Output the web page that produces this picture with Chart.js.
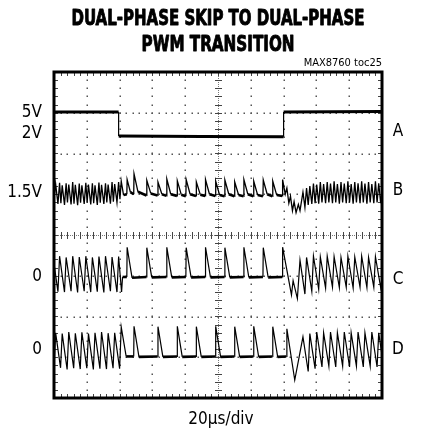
<!DOCTYPE html>
<html>
<head>
<meta charset="utf-8">
<script src="https://cdn.jsdelivr.net/npm/chart.js@4.4.1/dist/chart.umd.min.js"></script>
<style>
  html, body { margin: 0; padding: 0; background: #fff; }
  #wrap { width: 431px; height: 433px; }
</style>
</head>
<body>
<div id="wrap"><canvas id="c" width="431" height="433"></canvas></div>
<script>
// ---- text ----
const titleLines = ['DUAL-PHASE SKIP TO DUAL-PHASE', 'PWM TRANSITION'];
const noteText = 'MAX8760 toc25';
const timeBaseText = '20µs/div';
const levelLabels = ['5V', '2V', '1.5V', '0', '0'];
const traceNames = ['A', 'B', 'C', 'D'];

// ---- scope traces (x in divisions, y in divisions from screen centre) ----
const traceA = [[0,3.02],[1.97,3.02],[1.97,2.43],[4.5,2.42],[7.0,2.41],[7.0,3.02],[10,3.03]];

const traceB = [[0,0.9],[0.05,1.25],[0.12,0.76],[0.17,1.28],[0.21,0.78],[0.25,1.22],[0.32,0.74],[0.37,1.27],[0.41,0.8],[0.45,1.24],[0.52,0.75],[0.57,1.3],[0.61,0.77],[0.65,1.23],[0.72,0.73],[0.77,1.26],[0.81,0.79],[0.85,1.22],[0.92,0.76],[0.97,1.28],[1.01,0.8],[1.05,1.24],[1.12,0.75],[1.17,1.27],[1.21,0.78],[1.25,1.22],[1.32,0.74],[1.37,1.29],[1.41,0.79],[1.45,1.23],[1.52,0.76],[1.57,1.27],[1.61,0.8],[1.65,1.24],[1.72,0.77],[1.77,1.3],[1.81,0.82],[1.85,1.25],[1.92,0.8],[1.97,1.3],[2.01,0.88],[2.05,1.32],[2.12,0.98],
[2.22,1.0],[2.23,1.36],[2.33,1.05],[2.43,1.0],[2.44,1.5],[2.56,1.06],[2.82,0.97],[2.83,1.34],[2.95,1.02],[3.16,0.97],[3.17,1.3],[3.29,1.0],[3.43,0.96],[3.44,1.37],[3.56,1.0],[3.75,0.96],[3.76,1.33],[3.88,0.99],[4.02,0.95],[4.03,1.36],[4.15,1.0],[4.33,0.96],[4.34,1.3],[4.46,0.99],[4.61,0.96],[4.62,1.36],[4.74,1.0],[4.92,0.96],[4.93,1.32],[5.05,0.98],[5.20,0.95],[5.21,1.35],[5.33,1.0],[5.50,0.95],[5.51,1.3],[5.63,0.98],[5.78,0.95],[5.79,1.36],[5.91,1.0],[6.08,0.95],[6.09,1.32],[6.21,0.98],[6.37,0.95],[6.38,1.35],[6.50,1.0],[6.66,0.95],[6.67,1.32],[6.79,0.98],[6.96,0.96],[6.97,1.36],[7.05,1.0],[7.10,1.15],[7.16,0.78],[7.21,0.95],[7.27,0.6],[7.32,0.82],[7.38,0.55],[7.45,0.75],[7.50,0.6],
[7.59,1.05],[7.65,0.68],[7.70,1.15],[7.75,0.74],[7.80,1.2],[7.86,0.76],[7.91,1.26],[7.96,0.78],[8.01,1.24],[8.07,0.77],[8.12,1.3],[8.17,0.8],[8.22,1.25],[8.28,0.78],[8.33,1.3],[8.38,0.8],[8.43,1.26],[8.49,0.78],[8.54,1.32],[8.59,0.8],[8.64,1.25],[8.70,0.77],[8.75,1.3],[8.80,0.8],[8.85,1.26],[8.91,0.78],[8.96,1.32],[9.01,0.8],[9.06,1.25],[9.12,0.77],[9.17,1.3],[9.22,0.8],[9.27,1.27],[9.33,0.78],[9.38,1.32],[9.43,0.8],[9.48,1.26],[9.54,0.77],[9.59,1.3],[9.64,0.8],[9.69,1.25],[9.75,0.78],[9.80,1.32],[9.85,0.8],[9.90,1.27],[9.96,0.78],[10,1.1]];

const traceC = [[0,-0.70],[0.12,-1.39],[0.17,-0.52],[0.32,-1.40],[0.37,-0.55],[0.52,-1.38],[0.57,-0.52],[0.72,-1.41],[0.77,-0.54],[0.92,-1.38],[0.97,-0.52],[1.12,-1.40],[1.17,-0.55],[1.32,-1.39],[1.37,-0.53],[1.52,-1.41],[1.57,-0.52],[1.72,-1.38],[1.77,-0.54],[1.92,-1.40],[1.97,-0.53],[2.06,-1.40],[2.09,-1.03],
[2.22,-1.03],[2.23,-0.30],[2.38,-1.05],[2.82,-1.03],[2.83,-0.31],[2.98,-1.04],[3.43,-1.03],[3.44,-0.30],[3.59,-1.04],[4.02,-1.03],[4.03,-0.31],[4.18,-1.04],[4.61,-1.03],[4.62,-0.30],[4.77,-1.04],[5.20,-1.03],[5.21,-0.31],[5.36,-1.04],[5.78,-1.03],[5.79,-0.30],[5.94,-1.04],[6.37,-1.03],[6.38,-0.31],[6.53,-1.04],[6.96,-1.03],[6.97,-0.30],
[7.24,-1.47],[7.29,-1.12],[7.42,-1.56],[7.50,-0.62],[7.65,-1.45],[7.70,-0.55],[7.86,-1.38],[7.91,-0.52],[8.07,-1.33],[8.12,-0.54],[8.28,-1.30],[8.33,-0.52],[8.49,-1.28],[8.54,-0.53],[8.70,-1.29],[8.75,-0.55],[8.91,-1.28],[8.96,-0.52],[9.12,-1.30],[9.17,-0.54],[9.33,-1.28],[9.38,-0.52],[9.54,-1.29],[9.59,-0.55],[9.75,-1.28],[9.80,-0.53],[9.96,-1.29],[10,-1.05]];

const traceD = [[0,-3.28],[0.05,-2.40],[0.20,-3.26],[0.25,-2.42],[0.40,-3.30],[0.45,-2.38],[0.60,-3.27],[0.65,-2.41],[0.80,-3.29],[0.85,-2.39],[1.00,-3.27],[1.05,-2.42],[1.20,-3.30],[1.25,-2.40],[1.40,-3.28],[1.45,-2.38],[1.60,-3.29],[1.65,-2.41],[1.80,-3.27],[1.85,-2.40],[2.00,-3.28],[2.05,-2.26],[2.20,-2.98],
[2.43,-2.98],[2.44,-2.24],[2.59,-2.99],[3.16,-2.98],[3.17,-2.25],[3.32,-2.99],[3.75,-2.98],[3.76,-2.24],[3.91,-2.99],[4.33,-2.98],[4.34,-2.25],[4.49,-2.99],[4.92,-2.98],[4.93,-2.24],[5.08,-2.99],[5.50,-2.98],[5.51,-2.25],[5.66,-2.99],[6.08,-2.98],[6.09,-2.24],[6.24,-2.99],[6.66,-2.98],[6.67,-2.25],[6.82,-2.99],[7.08,-2.98],[7.10,-2.30],
[7.34,-3.56],[7.59,-2.50],[7.75,-3.35],[7.80,-2.42],[7.96,-3.28],[8.01,-2.38],[8.17,-3.24],[8.22,-2.40],[8.38,-3.22],[8.43,-2.38],[8.59,-3.24],[8.64,-2.40],[8.80,-3.22],[8.85,-2.38],[9.01,-3.24],[9.06,-2.40],[9.22,-3.22],[9.27,-2.38],[9.43,-3.24],[9.48,-2.40],[9.64,-3.22],[9.69,-2.38],[9.85,-3.24],[9.90,-2.40],[10,-2.95]];

// ---- drawing helpers ----
const toPts = arr => arr.map(([x, y]) => ({ x, y }));
const flatWidth = (thick, thin, lim) => ctx => {
  const dy = Math.abs(ctx.p1.parsed.y - ctx.p0.parsed.y);
  const dx = Math.abs(ctx.p1.parsed.x - ctx.p0.parsed.x);
  return (dx > 0 && dy / dx < lim) ? thick : thin;
};
const traceStyle = (thick, thin, lim) => ({
  showLine: true, borderColor: '#000', backgroundColor: '#000',
  pointRadius: 0, pointHoverRadius: 0, tension: 0, fill: false,
  borderJoinStyle: 'miter', borderCapStyle: 'butt',
  segment: { borderWidth: flatWidth(thick, thin, lim) }
});

const NARROW = '"Liberation Sans Narrow", "DejaVu Sans Condensed", "Liberation Sans", sans-serif';

const scopePlugin = {
  id: 'scope',
  beforeDatasetsDraw(chart) {
    const { ctx, chartArea: a, scales: { x, y } } = chart;
    ctx.save();
    ctx.fillStyle = '#555';
    // dotted graticule
    for (let i = 1; i < 10; i++) {
      if (i === 5) continue;
      const px = Math.round(x.getPixelForValue(i));
      for (let v = -4; v <= 4.001; v += 0.2) {
        const py = Math.round(y.getPixelForValue(v));
        ctx.fillRect(px - 0.5, py - 0.5, 1.5, 1.5);
      }
    }
    for (let j = -3; j <= 3; j++) {
      if (j === 0) continue;
      const py = Math.round(y.getPixelForValue(j));
      for (let v = 0; v <= 10.001; v += 0.2) {
        const px = Math.round(x.getPixelForValue(v));
        ctx.fillRect(px - 0.5, py - 0.5, 1.5, 1.5);
      }
    }
    // centre cross with minor ticks
    const cx = Math.round(x.getPixelForValue(5));
    const cy = Math.round(y.getPixelForValue(0));
    ctx.fillStyle = '#777';
    for (let py = a.top; py <= a.bottom; py += 2) ctx.fillRect(cx, py, 1, 1);
    for (let px = a.left; px <= a.right; px += 2) ctx.fillRect(px, cy, 1, 1);
    ctx.fillStyle = '#444';
    for (let v = -4; v <= 4.001; v += 0.2) {
      const py = Math.round(y.getPixelForValue(v));
      ctx.fillRect(cx - 3, py, 7, 1);
    }
    for (let v = 0; v <= 10.001; v += 0.2) {
      const px = Math.round(x.getPixelForValue(v));
      ctx.fillRect(px, cy - 3, 1, 7);
    }
    // edge ticks
    for (let v = 0; v <= 10.001; v += 0.2) {
      const px = Math.round(x.getPixelForValue(v));
      ctx.fillRect(px, a.top, 1, 4);
      ctx.fillRect(px, a.bottom - 4, 1, 4);
    }
    for (let v = -4; v <= 4.001; v += 0.2) {
      const py = Math.round(y.getPixelForValue(v));
      ctx.fillRect(a.left, py, 4, 1);
      ctx.fillRect(a.right - 4, py, 4, 1);
    }
    ctx.restore();
  },
  afterDatasetsDraw(chart) {
    const { ctx, chartArea: a, scales: { x, y } } = chart;
    ctx.save();
    // frame
    ctx.strokeStyle = '#000';
    ctx.lineWidth = 3;
    ctx.strokeRect(a.left, a.top, a.right - a.left, a.bottom - a.top);

    // title (condensed heavy face, fitted to reference width)
    ctx.fillStyle = '#000';
    ctx.textBaseline = 'middle';
    ctx.textAlign = 'center';
    const titleW = [293, 153];
    const titleY = [19, 45];
    ctx.font = 'bold 22px ' + NARROW;
    ctx.lineWidth = 0.9;
    ctx.lineJoin = 'round';
    titleLines.forEach((t, i) => {
      const w = ctx.measureText(t).width;
      const sx = titleW[i] / w;
      ctx.save();
      ctx.translate(218, titleY[i]);
      ctx.scale(sx, 1);
      ctx.fillText(t, 0, 0);
      ctx.strokeText(t, 0, 0);
      ctx.restore();
    });

    // note
    ctx.font = '11px ' + NARROW;
    ctx.textAlign = 'right';
    ctx.fillText(noteText, a.right, 63);

    // level labels (left)
    ctx.font = '17px ' + NARROW;
    const levelY = [3.0, 2.48, 1.03, -1.03, -2.82];
    levelLabels.forEach((t, i) => {
      ctx.fillText(t, 42, y.getPixelForValue(levelY[i]));
    });
    // trace names (right)
    ctx.textAlign = 'center';
    const nameY = [2.53, 1.10, -1.10, -2.82];
    traceNames.forEach((t, i) => {
      ctx.fillText(t, 398, y.getPixelForValue(nameY[i]));
    });
    // time base
    ctx.fillText(timeBaseText, x.getPixelForValue(5) + 3, 420);
    ctx.restore();
  }
};

new Chart(document.getElementById('c'), {
  type: 'scatter',
  data: {
    datasets: [
      Object.assign({ label: 'A', data: toPts(traceA) }, traceStyle(3, 1.2, 0.5)),
      Object.assign({ label: 'B', data: toPts(traceB) }, traceStyle(2.6, 1.3, 0.6)),
      Object.assign({ label: 'C', data: toPts(traceC) }, traceStyle(2.6, 1.2, 0.5)),
      Object.assign({ label: 'D', data: toPts(traceD) }, traceStyle(2.6, 1.2, 0.5))
    ]
  },
  options: {
    responsive: false,
    devicePixelRatio: 1,
    animation: false,
    layout: { padding: { left: 54, right: 49, top: 72, bottom: 35 } },
    plugins: { legend: { display: false }, tooltip: { enabled: false }, title: { display: false } },
    scales: {
      x: { type: 'linear', min: 0, max: 10, display: false },
      y: { type: 'linear', min: -4, max: 4, display: false }
    }
  },
  plugins: [scopePlugin]
});
</script>
</body>
</html>
